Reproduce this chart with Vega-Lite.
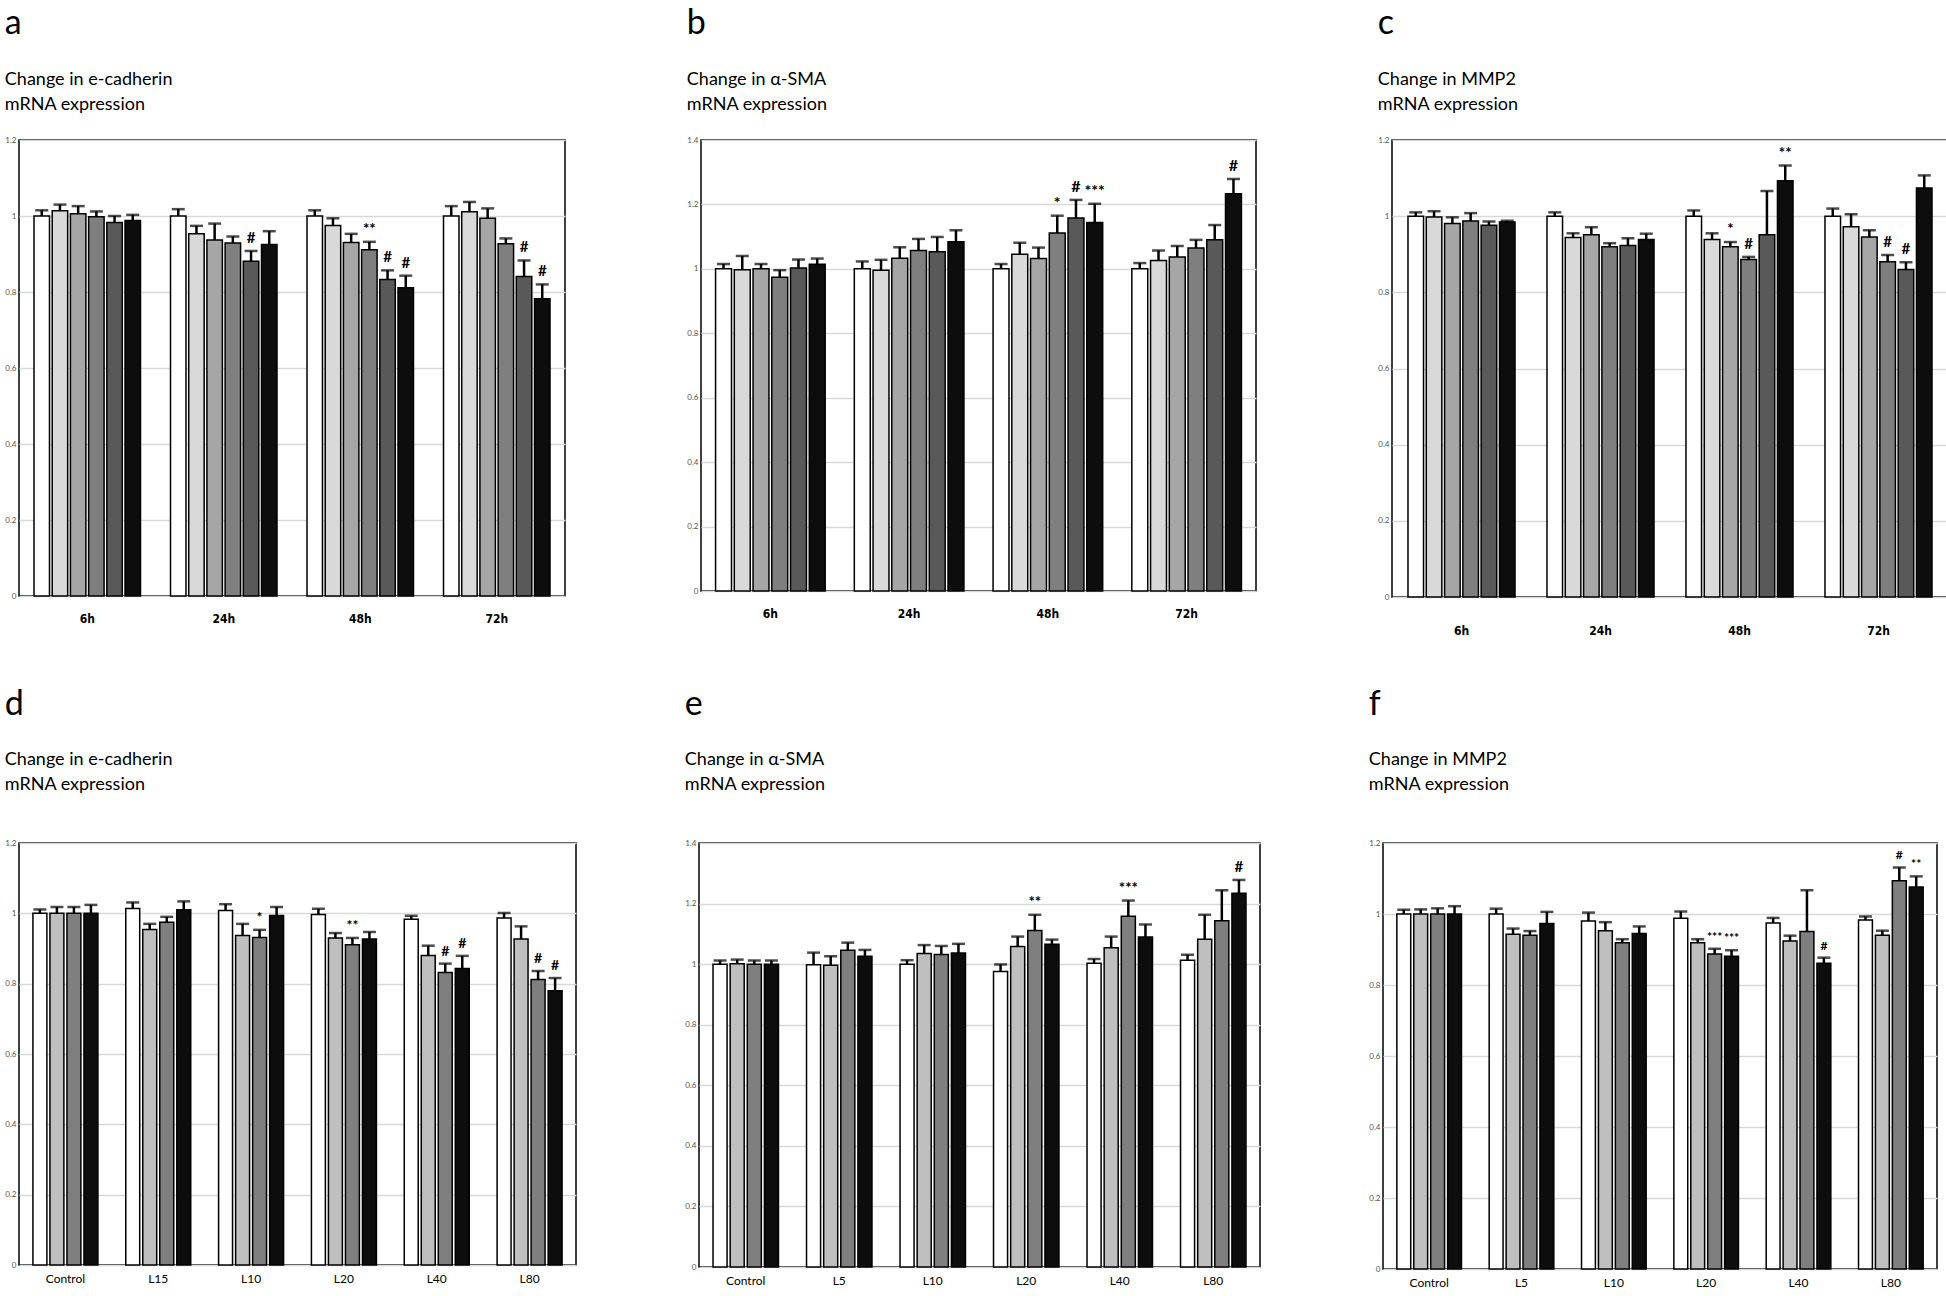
{
  "$schema": "https://vega.github.io/schema/vega-lite/v6.json",
  "background": "white",
  "padding": {"left": 4, "top": 6, "right": 0, "bottom": 0},
  "spacing": 50,
  "resolve": {"scale": {"xOffset": "independent", "x": "independent", "y": "independent"}},
  "datasets": {
    "a": [
      {"g": "6h", "s": "A1", "v": 1.0, "hi": 1.015, "lab": ""},
      {"g": "6h", "s": "A2", "v": 1.014, "hi": 1.030, "lab": ""},
      {"g": "6h", "s": "A3", "v": 1.006, "hi": 1.026, "lab": ""},
      {"g": "6h", "s": "A4", "v": 0.998, "hi": 1.012, "lab": ""},
      {"g": "6h", "s": "A5", "v": 0.983, "hi": 1.0, "lab": ""},
      {"g": "6h", "s": "A6", "v": 0.988, "hi": 1.003, "lab": ""},
      {"g": "24h", "s": "A1", "v": 1.0, "hi": 1.018, "lab": ""},
      {"g": "24h", "s": "A2", "v": 0.953, "hi": 0.974, "lab": ""},
      {"g": "24h", "s": "A3", "v": 0.937, "hi": 0.980, "lab": ""},
      {"g": "24h", "s": "A4", "v": 0.929, "hi": 0.946, "lab": ""},
      {"g": "24h", "s": "A5", "v": 0.881, "hi": 0.908, "lab": "#"},
      {"g": "24h", "s": "A6", "v": 0.925, "hi": 0.960, "lab": ""},
      {"g": "48h", "s": "A1", "v": 1.0, "hi": 1.015, "lab": ""},
      {"g": "48h", "s": "A2", "v": 0.975, "hi": 0.994, "lab": ""},
      {"g": "48h", "s": "A3", "v": 0.930, "hi": 0.953, "lab": ""},
      {"g": "48h", "s": "A4", "v": 0.911, "hi": 0.932, "lab": "**"},
      {"g": "48h", "s": "A5", "v": 0.833, "hi": 0.857, "lab": "#"},
      {"g": "48h", "s": "A6", "v": 0.811, "hi": 0.843, "lab": "#"},
      {"g": "72h", "s": "A1", "v": 1.0, "hi": 1.026, "lab": ""},
      {"g": "72h", "s": "A2", "v": 1.011, "hi": 1.037, "lab": ""},
      {"g": "72h", "s": "A3", "v": 0.994, "hi": 1.020, "lab": ""},
      {"g": "72h", "s": "A4", "v": 0.927, "hi": 0.941, "lab": ""},
      {"g": "72h", "s": "A5", "v": 0.841, "hi": 0.883, "lab": "#"},
      {"g": "72h", "s": "A6", "v": 0.782, "hi": 0.820, "lab": "#"}
    ],
    "b": [
      {"g": "6h", "s": "A1", "v": 1.0, "hi": 1.015, "lab": ""},
      {"g": "6h", "s": "A2", "v": 0.997, "hi": 1.040, "lab": ""},
      {"g": "6h", "s": "A3", "v": 1.0, "hi": 1.015, "lab": ""},
      {"g": "6h", "s": "A4", "v": 0.974, "hi": 0.996, "lab": ""},
      {"g": "6h", "s": "A5", "v": 1.003, "hi": 1.029, "lab": ""},
      {"g": "6h", "s": "A6", "v": 1.014, "hi": 1.032, "lab": ""},
      {"g": "24h", "s": "A1", "v": 1.0, "hi": 1.023, "lab": ""},
      {"g": "24h", "s": "A2", "v": 0.996, "hi": 1.028, "lab": ""},
      {"g": "24h", "s": "A3", "v": 1.033, "hi": 1.067, "lab": ""},
      {"g": "24h", "s": "A4", "v": 1.057, "hi": 1.093, "lab": ""},
      {"g": "24h", "s": "A5", "v": 1.053, "hi": 1.099, "lab": ""},
      {"g": "24h", "s": "A6", "v": 1.084, "hi": 1.120, "lab": ""},
      {"g": "48h", "s": "A1", "v": 1.0, "hi": 1.015, "lab": ""},
      {"g": "48h", "s": "A2", "v": 1.045, "hi": 1.081, "lab": ""},
      {"g": "48h", "s": "A3", "v": 1.032, "hi": 1.066, "lab": ""},
      {"g": "48h", "s": "A4", "v": 1.111, "hi": 1.165, "lab": "*"},
      {"g": "48h", "s": "A5", "v": 1.158, "hi": 1.214, "lab": "#"},
      {"g": "48h", "s": "A6", "v": 1.144, "hi": 1.202, "lab": "***"},
      {"g": "72h", "s": "A1", "v": 1.0, "hi": 1.018, "lab": ""},
      {"g": "72h", "s": "A2", "v": 1.026, "hi": 1.057, "lab": ""},
      {"g": "72h", "s": "A3", "v": 1.037, "hi": 1.071, "lab": ""},
      {"g": "72h", "s": "A4", "v": 1.065, "hi": 1.090, "lab": ""},
      {"g": "72h", "s": "A5", "v": 1.090, "hi": 1.136, "lab": ""},
      {"g": "72h", "s": "A6", "v": 1.233, "hi": 1.279, "lab": "#"}
    ],
    "c": [
      {"g": "6h", "s": "A1", "v": 1.0, "hi": 1.010, "lab": ""},
      {"g": "6h", "s": "A2", "v": 0.998, "hi": 1.013, "lab": ""},
      {"g": "6h", "s": "A3", "v": 0.981, "hi": 0.997, "lab": ""},
      {"g": "6h", "s": "A4", "v": 0.987, "hi": 1.008, "lab": ""},
      {"g": "6h", "s": "A5", "v": 0.976, "hi": 0.986, "lab": ""},
      {"g": "6h", "s": "A6", "v": 0.985, "hi": 0.988, "lab": ""},
      {"g": "24h", "s": "A1", "v": 1.0, "hi": 1.010, "lab": ""},
      {"g": "24h", "s": "A2", "v": 0.944, "hi": 0.955, "lab": ""},
      {"g": "24h", "s": "A3", "v": 0.951, "hi": 0.971, "lab": ""},
      {"g": "24h", "s": "A4", "v": 0.920, "hi": 0.929, "lab": ""},
      {"g": "24h", "s": "A5", "v": 0.923, "hi": 0.942, "lab": ""},
      {"g": "24h", "s": "A6", "v": 0.939, "hi": 0.954, "lab": ""},
      {"g": "48h", "s": "A1", "v": 1.0, "hi": 1.015, "lab": ""},
      {"g": "48h", "s": "A2", "v": 0.939, "hi": 0.955, "lab": ""},
      {"g": "48h", "s": "A3", "v": 0.920, "hi": 0.932, "lab": "*"},
      {"g": "48h", "s": "A4", "v": 0.886, "hi": 0.893, "lab": "#"},
      {"g": "48h", "s": "A5", "v": 0.951, "hi": 1.066, "lab": ""},
      {"g": "48h", "s": "A6", "v": 1.093, "hi": 1.133, "lab": "**"},
      {"g": "72h", "s": "A1", "v": 1.0, "hi": 1.020, "lab": ""},
      {"g": "72h", "s": "A2", "v": 0.972, "hi": 1.005, "lab": ""},
      {"g": "72h", "s": "A3", "v": 0.945, "hi": 0.963, "lab": ""},
      {"g": "72h", "s": "A4", "v": 0.880, "hi": 0.898, "lab": "#"},
      {"g": "72h", "s": "A5", "v": 0.860, "hi": 0.879, "lab": "#"},
      {"g": "72h", "s": "A6", "v": 1.074, "hi": 1.107, "lab": ""}
    ],
    "d": [
      {"g": "Control", "s": "B1", "v": 1.0, "hi": 1.011, "lab": ""},
      {"g": "Control", "s": "B2", "v": 1.0, "hi": 1.018, "lab": ""},
      {"g": "Control", "s": "B3", "v": 1.0, "hi": 1.018, "lab": ""},
      {"g": "Control", "s": "B4", "v": 1.0, "hi": 1.024, "lab": ""},
      {"g": "L15", "s": "B1", "v": 1.014, "hi": 1.031, "lab": ""},
      {"g": "L15", "s": "B2", "v": 0.954, "hi": 0.970, "lab": ""},
      {"g": "L15", "s": "B3", "v": 0.975, "hi": 0.990, "lab": ""},
      {"g": "L15", "s": "B4", "v": 1.010, "hi": 1.034, "lab": ""},
      {"g": "L10", "s": "B1", "v": 1.008, "hi": 1.026, "lab": ""},
      {"g": "L10", "s": "B2", "v": 0.937, "hi": 0.970, "lab": ""},
      {"g": "L10", "s": "B3", "v": 0.931, "hi": 0.953, "lab": "*"},
      {"g": "L10", "s": "B4", "v": 0.994, "hi": 1.018, "lab": ""},
      {"g": "L20", "s": "B1", "v": 0.997, "hi": 1.013, "lab": ""},
      {"g": "L20", "s": "B2", "v": 0.930, "hi": 0.944, "lab": ""},
      {"g": "L20", "s": "B3", "v": 0.911, "hi": 0.930, "lab": "**"},
      {"g": "L20", "s": "B4", "v": 0.927, "hi": 0.947, "lab": ""},
      {"g": "L40", "s": "B1", "v": 0.983, "hi": 0.993, "lab": ""},
      {"g": "L40", "s": "B2", "v": 0.880, "hi": 0.908, "lab": ""},
      {"g": "L40", "s": "B3", "v": 0.832, "hi": 0.857, "lab": "#"},
      {"g": "L40", "s": "B4", "v": 0.843, "hi": 0.879, "lab": "#"},
      {"g": "L80", "s": "B1", "v": 0.987, "hi": 1.001, "lab": ""},
      {"g": "L80", "s": "B2", "v": 0.927, "hi": 0.963, "lab": ""},
      {"g": "L80", "s": "B3", "v": 0.812, "hi": 0.836, "lab": "#"},
      {"g": "L80", "s": "B4", "v": 0.780, "hi": 0.816, "lab": "#"}
    ],
    "e": [
      {"g": "Control", "s": "B1", "v": 1.0, "hi": 1.012, "lab": ""},
      {"g": "Control", "s": "B2", "v": 1.001, "hi": 1.015, "lab": ""},
      {"g": "Control", "s": "B3", "v": 1.0, "hi": 1.012, "lab": ""},
      {"g": "Control", "s": "B4", "v": 1.0, "hi": 1.012, "lab": ""},
      {"g": "L5", "s": "B1", "v": 0.998, "hi": 1.038, "lab": ""},
      {"g": "L5", "s": "B2", "v": 0.996, "hi": 1.026, "lab": ""},
      {"g": "L5", "s": "B3", "v": 1.046, "hi": 1.071, "lab": ""},
      {"g": "L5", "s": "B4", "v": 1.026, "hi": 1.047, "lab": ""},
      {"g": "L10", "s": "B1", "v": 1.0, "hi": 1.013, "lab": ""},
      {"g": "L10", "s": "B2", "v": 1.035, "hi": 1.063, "lab": ""},
      {"g": "L10", "s": "B3", "v": 1.032, "hi": 1.060, "lab": ""},
      {"g": "L10", "s": "B4", "v": 1.037, "hi": 1.067, "lab": ""},
      {"g": "L20", "s": "B1", "v": 0.976, "hi": 0.999, "lab": ""},
      {"g": "L20", "s": "B2", "v": 1.058, "hi": 1.091, "lab": ""},
      {"g": "L20", "s": "B3", "v": 1.111, "hi": 1.163, "lab": "**"},
      {"g": "L20", "s": "B4", "v": 1.066, "hi": 1.081, "lab": ""},
      {"g": "L40", "s": "B1", "v": 1.003, "hi": 1.017, "lab": ""},
      {"g": "L40", "s": "B2", "v": 1.054, "hi": 1.091, "lab": ""},
      {"g": "L40", "s": "B3", "v": 1.158, "hi": 1.210, "lab": "***"},
      {"g": "L40", "s": "B4", "v": 1.090, "hi": 1.131, "lab": ""},
      {"g": "L80", "s": "B1", "v": 1.013, "hi": 1.031, "lab": ""},
      {"g": "L80", "s": "B2", "v": 1.082, "hi": 1.163, "lab": ""},
      {"g": "L80", "s": "B3", "v": 1.143, "hi": 1.244, "lab": ""},
      {"g": "L80", "s": "B4", "v": 1.234, "hi": 1.278, "lab": "#"}
    ],
    "f": [
      {"g": "Control", "s": "B1", "v": 1.0, "hi": 1.012, "lab": ""},
      {"g": "Control", "s": "B2", "v": 1.0, "hi": 1.013, "lab": ""},
      {"g": "Control", "s": "B3", "v": 1.0, "hi": 1.016, "lab": ""},
      {"g": "Control", "s": "B4", "v": 1.0, "hi": 1.022, "lab": ""},
      {"g": "L5", "s": "B1", "v": 1.0, "hi": 1.015, "lab": ""},
      {"g": "L5", "s": "B2", "v": 0.943, "hi": 0.959, "lab": ""},
      {"g": "L5", "s": "B3", "v": 0.940, "hi": 0.952, "lab": ""},
      {"g": "L5", "s": "B4", "v": 0.973, "hi": 1.006, "lab": ""},
      {"g": "L10", "s": "B1", "v": 0.980, "hi": 1.004, "lab": ""},
      {"g": "L10", "s": "B2", "v": 0.953, "hi": 0.977, "lab": ""},
      {"g": "L10", "s": "B3", "v": 0.919, "hi": 0.929, "lab": ""},
      {"g": "L10", "s": "B4", "v": 0.945, "hi": 0.965, "lab": ""},
      {"g": "L20", "s": "B1", "v": 0.988, "hi": 1.007, "lab": ""},
      {"g": "L20", "s": "B2", "v": 0.919, "hi": 0.929, "lab": ""},
      {"g": "L20", "s": "B3", "v": 0.887, "hi": 0.902, "lab": "***"},
      {"g": "L20", "s": "B4", "v": 0.881, "hi": 0.898, "lab": "***"},
      {"g": "L40", "s": "B1", "v": 0.975, "hi": 0.989, "lab": ""},
      {"g": "L40", "s": "B2", "v": 0.924, "hi": 0.939, "lab": ""},
      {"g": "L40", "s": "B3", "v": 0.951, "hi": 1.067, "lab": ""},
      {"g": "L40", "s": "B4", "v": 0.861, "hi": 0.877, "lab": "#"},
      {"g": "L80", "s": "B1", "v": 0.983, "hi": 0.993, "lab": ""},
      {"g": "L80", "s": "B2", "v": 0.940, "hi": 0.953, "lab": ""},
      {"g": "L80", "s": "B3", "v": 1.094, "hi": 1.131, "lab": "#"},
      {"g": "L80", "s": "B4", "v": 1.076, "hi": 1.106, "lab": "**"}
    ]
  },
  "vconcat": [
    {
      "resolve": {"scale": {"xOffset": "independent", "x": "independent", "y": "independent"}},
      "hconcat": [
        {
          "data": {"name": "a"},
          "title": {"text": "a", "subtitle": ["Change in e-cadherin", "mRNA expression"]},
          "width": 546, "height": 456,
          "encoding": {
            "x": {"field": "g", "type": "nominal", "sort": null, "title": null, "scale": {"type": "band", "paddingInner": 0.22, "paddingOuter": 0.11}, "axis": {"labelFontWeight": "bold", "labelFont": "DejaVu Sans Condensed", "labelFontSize": 12, "labelPadding": 17}},
            "xOffset": {"field": "s", "type": "nominal", "sort": null, "scale": {"type": "band", "paddingInner": 0.15, "paddingOuter": 0}}
          },
          "layer": [
            {"mark": {"type": "bar", "stroke": "black", "strokeWidth": 1.5}, "encoding": {"y": {"field": "v", "type": "quantitative", "title": null, "scale": {"domain": [0, 1.2], "nice": false}}, "fill": {"field": "s", "type": "nominal", "legend": null, "scale": {"domain": ["A1","A2","A3","A4","A5","A6","B1","B2","B3","B4"], "range": ["#ffffff","#d9d9d9","#a6a6a6","#7f7f7f","#595959","#0d0d0d","#ffffff","#bfbfbf","#7f7f7f","#0d0d0d"]}}}},
            {"mark": {"type": "rule", "color": "black", "strokeWidth": 2.5}, "encoding": {"y": {"field": "v", "type": "quantitative", "title": null}, "y2": {"field": "hi"}}},
            {"mark": {"type": "tick", "color": "black", "thickness": 2.5, "size": 13}, "encoding": {"y": {"field": "hi", "type": "quantitative", "title": null}}},
            {"mark": {"type": "text", "fontSize": 15, "fontWeight": "bold", "baseline": "bottom", "dy": -5}, "encoding": {"y": {"field": "hi", "type": "quantitative", "title": null}, "text": {"field": "lab"}}}
          ]
        },
        {
          "data": {"name": "b"},
          "title": {"text": "b", "subtitle": ["Change in α-SMA", "mRNA expression"]},
          "width": 555, "height": 451,
          "encoding": {
            "x": {"field": "g", "type": "nominal", "sort": null, "title": null, "scale": {"type": "band", "paddingInner": 0.21, "paddingOuter": 0.105}, "axis": {"labelFontWeight": "bold", "labelFont": "DejaVu Sans Condensed", "labelFontSize": 12, "labelPadding": 17}},
            "xOffset": {"field": "s", "type": "nominal", "sort": null, "scale": {"type": "band", "paddingInner": 0.15, "paddingOuter": 0}}
          },
          "layer": [
            {"mark": {"type": "bar", "stroke": "black", "strokeWidth": 1.5}, "encoding": {"y": {"field": "v", "type": "quantitative", "title": null, "scale": {"domain": [0, 1.4], "nice": false}}, "fill": {"field": "s", "type": "nominal", "legend": null, "scale": {"domain": ["A1","A2","A3","A4","A5","A6","B1","B2","B3","B4"], "range": ["#ffffff","#d9d9d9","#a6a6a6","#7f7f7f","#595959","#0d0d0d","#ffffff","#bfbfbf","#7f7f7f","#0d0d0d"]}}}},
            {"mark": {"type": "rule", "color": "black", "strokeWidth": 2.5}, "encoding": {"y": {"field": "v", "type": "quantitative", "title": null}, "y2": {"field": "hi"}}},
            {"mark": {"type": "tick", "color": "black", "thickness": 2.5, "size": 13}, "encoding": {"y": {"field": "hi", "type": "quantitative", "title": null}}},
            {"mark": {"type": "text", "fontSize": 16, "fontWeight": "bold", "baseline": "bottom", "dy": -5}, "encoding": {"y": {"field": "hi", "type": "quantitative", "title": null}, "text": {"field": "lab"}}}
          ]
        },
        {
          "data": {"name": "c"},
          "title": {"text": "c", "subtitle": ["Change in MMP2", "mRNA expression"]},
          "width": 556, "height": 457,
          "encoding": {
            "x": {"field": "g", "type": "nominal", "sort": null, "title": null, "scale": {"type": "band", "paddingInner": 0.23, "paddingOuter": 0.115}, "axis": {"labelFontWeight": "bold", "labelFont": "DejaVu Sans Condensed", "labelFontSize": 12, "labelPadding": 28}},
            "xOffset": {"field": "s", "type": "nominal", "sort": null, "scale": {"type": "band", "paddingInner": 0.15, "paddingOuter": 0}}
          },
          "layer": [
            {"mark": {"type": "bar", "stroke": "black", "strokeWidth": 1.5}, "encoding": {"y": {"field": "v", "type": "quantitative", "title": null, "scale": {"domain": [0, 1.2], "nice": false}}, "fill": {"field": "s", "type": "nominal", "legend": null, "scale": {"domain": ["A1","A2","A3","A4","A5","A6","B1","B2","B3","B4"], "range": ["#ffffff","#d9d9d9","#a6a6a6","#7f7f7f","#595959","#0d0d0d","#ffffff","#bfbfbf","#7f7f7f","#0d0d0d"]}}}},
            {"mark": {"type": "rule", "color": "black", "strokeWidth": 2.5}, "encoding": {"y": {"field": "v", "type": "quantitative", "title": null}, "y2": {"field": "hi"}}},
            {"mark": {"type": "tick", "color": "black", "thickness": 2.5, "size": 13}, "encoding": {"y": {"field": "hi", "type": "quantitative", "title": null}}},
            {"mark": {"type": "text", "fontSize": 15, "fontWeight": "bold", "baseline": "bottom", "dy": -5}, "encoding": {"y": {"field": "hi", "type": "quantitative", "title": null}, "text": {"field": "lab"}}}
          ]
        }
      ]
    },
    {
      "resolve": {"scale": {"xOffset": "independent", "x": "independent", "y": "independent"}},
      "hconcat": [
        {
          "data": {"name": "d"},
          "title": {"text": "d", "subtitle": ["Change in e-cadherin", "mRNA expression"], "offset": 45, "subtitlePadding": 29},
          "width": 557, "height": 422,
          "encoding": {
            "x": {"field": "g", "type": "nominal", "sort": null, "title": null, "scale": {"type": "band", "paddingInner": 0.3, "paddingOuter": 0.15}},
            "xOffset": {"field": "s", "type": "nominal", "sort": null, "scale": {"type": "band", "paddingInner": 0.18, "paddingOuter": 0}}
          },
          "layer": [
            {"mark": {"type": "bar", "stroke": "black", "strokeWidth": 1.5}, "encoding": {"y": {"field": "v", "type": "quantitative", "title": null, "scale": {"domain": [0, 1.2], "nice": false}}, "fill": {"field": "s", "type": "nominal", "legend": null, "scale": {"domain": ["A1","A2","A3","A4","A5","A6","B1","B2","B3","B4"], "range": ["#ffffff","#d9d9d9","#a6a6a6","#7f7f7f","#595959","#0d0d0d","#ffffff","#bfbfbf","#7f7f7f","#0d0d0d"]}}}},
            {"mark": {"type": "rule", "color": "black", "strokeWidth": 2.5}, "encoding": {"y": {"field": "v", "type": "quantitative", "title": null}, "y2": {"field": "hi"}}},
            {"mark": {"type": "tick", "color": "black", "thickness": 2.5, "size": 13}, "encoding": {"y": {"field": "hi", "type": "quantitative", "title": null}}},
            {"mark": {"type": "text", "fontSize": 14, "fontWeight": "bold", "baseline": "bottom", "dy": -5}, "encoding": {"y": {"field": "hi", "type": "quantitative", "title": null}, "text": {"field": "lab"}}}
          ]
        },
        {
          "data": {"name": "e"},
          "title": {"text": "e", "subtitle": ["Change in α-SMA", "mRNA expression"], "offset": 45, "subtitlePadding": 29},
          "width": 561, "height": 424,
          "encoding": {
            "x": {"field": "g", "type": "nominal", "sort": null, "title": null, "scale": {"type": "band", "paddingInner": 0.3, "paddingOuter": 0.15}},
            "xOffset": {"field": "s", "type": "nominal", "sort": null, "scale": {"type": "band", "paddingInner": 0.18, "paddingOuter": 0}}
          },
          "layer": [
            {"mark": {"type": "bar", "stroke": "black", "strokeWidth": 1.5}, "encoding": {"y": {"field": "v", "type": "quantitative", "title": null, "scale": {"domain": [0, 1.4], "nice": false}}, "fill": {"field": "s", "type": "nominal", "legend": null, "scale": {"domain": ["A1","A2","A3","A4","A5","A6","B1","B2","B3","B4"], "range": ["#ffffff","#d9d9d9","#a6a6a6","#7f7f7f","#595959","#0d0d0d","#ffffff","#bfbfbf","#7f7f7f","#0d0d0d"]}}}},
            {"mark": {"type": "rule", "color": "black", "strokeWidth": 2.5}, "encoding": {"y": {"field": "v", "type": "quantitative", "title": null}, "y2": {"field": "hi"}}},
            {"mark": {"type": "tick", "color": "black", "thickness": 2.5, "size": 13}, "encoding": {"y": {"field": "hi", "type": "quantitative", "title": null}}},
            {"mark": {"type": "text", "fontSize": 15, "fontWeight": "bold", "baseline": "bottom", "dy": -5}, "encoding": {"y": {"field": "hi", "type": "quantitative", "title": null}, "text": {"field": "lab"}}}
          ]
        },
        {
          "data": {"name": "f"},
          "title": {"text": "f", "subtitle": ["Change in MMP2", "mRNA expression"], "offset": 45, "subtitlePadding": 29},
          "width": 554, "height": 426,
          "encoding": {
            "x": {"field": "g", "type": "nominal", "sort": null, "title": null, "scale": {"type": "band", "paddingInner": 0.3, "paddingOuter": 0.15}},
            "xOffset": {"field": "s", "type": "nominal", "sort": null, "scale": {"type": "band", "paddingInner": 0.18, "paddingOuter": 0}}
          },
          "layer": [
            {"mark": {"type": "bar", "stroke": "black", "strokeWidth": 1.5}, "encoding": {"y": {"field": "v", "type": "quantitative", "title": null, "scale": {"domain": [0, 1.2], "nice": false}}, "fill": {"field": "s", "type": "nominal", "legend": null, "scale": {"domain": ["A1","A2","A3","A4","A5","A6","B1","B2","B3","B4"], "range": ["#ffffff","#d9d9d9","#a6a6a6","#7f7f7f","#595959","#0d0d0d","#ffffff","#bfbfbf","#7f7f7f","#0d0d0d"]}}}},
            {"mark": {"type": "rule", "color": "black", "strokeWidth": 2.5}, "encoding": {"y": {"field": "v", "type": "quantitative", "title": null}, "y2": {"field": "hi"}}},
            {"mark": {"type": "tick", "color": "black", "thickness": 2.5, "size": 13}, "encoding": {"y": {"field": "hi", "type": "quantitative", "title": null}}},
            {"mark": {"type": "text", "fontSize": 12, "fontWeight": "bold", "baseline": "bottom", "dy": -5}, "encoding": {"y": {"field": "hi", "type": "quantitative", "title": null}, "text": {"field": "lab"}}}
          ]
        }
      ],
      "spacing": 107
    }
  ],
  "config": {
    "font": "Lato",
    "concat": {"spacing": 120},
    "view": {"stroke": "black", "strokeWidth": 1.5},
    "axis": {"domain": false, "ticks": false},
    "axisY": {"grid": true, "gridColor": "#d9d9d9", "gridWidth": 1.5, "labelFontSize": 8, "labelColor": "#555555", "labelPadding": 3, "tickCount": 6, "format": ".1~f"},
    "axisX": {"labelAngle": 0, "labelFontSize": 12, "labelColor": "black", "labelPadding": 8},
    "title": {"anchor": "start", "frame": "bounds", "font": "Lato", "fontSize": 34, "fontWeight": "normal", "color": "black", "subtitleFont": "Lato", "subtitleFontSize": 18, "subtitleColor": "black", "subtitlePadding": 30, "subtitleLineHeight": 25, "offset": 22}
  }
}
